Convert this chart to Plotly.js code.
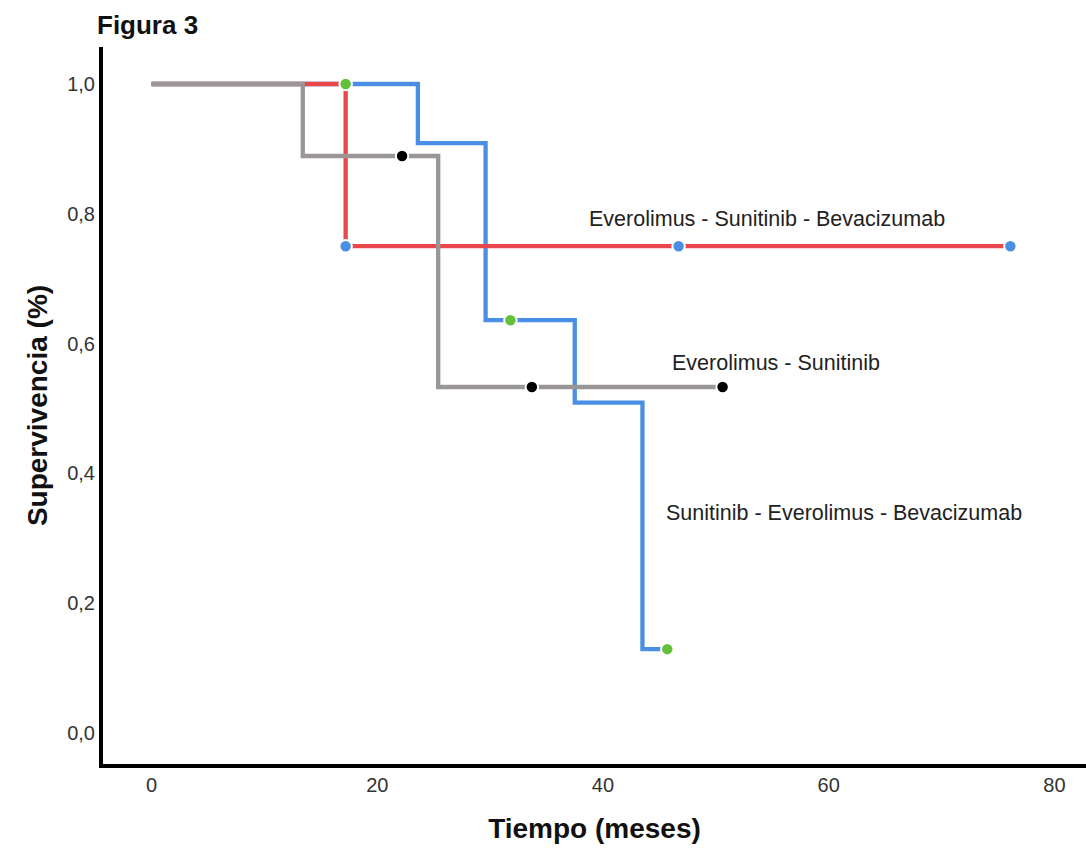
<!DOCTYPE html>
<html>
<head>
<meta charset="utf-8">
<script src="https://cdn.plot.ly/plotly-3.0.1.min.js"></script>
<style>html,body{margin:0;padding:0;background:#fff;}#chart{width:1086px;height:857px;}</style>
</head>
<body>
<div id="chart"></div>
<script>
// Kaplan-Meier step data (time in months, survival)
var grayName = "Everolimus - Sunitinib";
var grayTimes = [0, 13.4, 25.4, 50.6];
var graySurv = [1.0, 0.889, 0.533, 0.533];
var grayCensorT = [22.2, 33.7, 50.6];
var grayCensorS = [0.889, 0.533, 0.533];

var redName = "Everolimus - Sunitinib - Bevacizumab";
var redTimes = [0, 17.2, 76.1];
var redSurv = [1.0, 0.75, 0.75];
var redCensorT = [17.2, 46.7, 76.1];
var redCensorS = [0.75, 0.75, 0.75];

var blueName = "Sunitinib - Everolimus - Bevacizumab";
var blueTimes = [0, 23.6, 29.6, 37.5, 43.5, 45.7];
var blueSurv = [1.0, 0.909, 0.636, 0.509, 0.129, 0.129];
var blueCensorT = [17.2, 31.8, 45.7];
var blueCensorS = [1.0, 0.636, 0.129];

var xTickVals = [0, 20, 40, 60, 80];
var xTickText = ["0", "20", "40", "60", "80"];
var yTickVals = [0, 0.2, 0.4, 0.6, 0.8, 1.0];
var yTickText = ["0,0", "0,2", "0,4", "0,6", "0,8", "1,0"];

var cRed = "#E8474B", cBlue = "#4A8FE3", cGray = "#9A9696";

function stepTrace(x, y, color, name) {
  return {x: x, y: y, mode: "lines", line: {shape: "hv", color: color, width: 4.3}, name: name, hoverinfo: "skip"};
}
function censorTrace(x, y, color) {
  return {x: x, y: y, mode: "markers", marker: {color: color, size: 12.5, line: {color: "#ffffff", width: 2}}, hoverinfo: "skip"};
}

var data = [
  stepTrace(blueTimes, blueSurv, cBlue, blueName),
  stepTrace(redTimes, redSurv, cRed, redName),
  stepTrace(grayTimes, graySurv, cGray, grayName),
  censorTrace(grayCensorT, grayCensorS, "#000000"),
  censorTrace(redCensorT, redCensorS, "#4A8FE3"),
  censorTrace(blueCensorT, blueCensorS, "#62C03A")
];

var font = "Liberation Sans, Arial, sans-serif";
var layout = {
  width: 1086, height: 857,
  showlegend: false,
  paper_bgcolor: "#fff", plot_bgcolor: "#fff",
  margin: {l: 103, r: 0, t: 47, b: 93},
  title: {text: "<b>Figura 3</b>", font: {family: font, size: 26, color: "#111"}, xref: "container", yref: "container", x: 97/1086, xanchor: "left", y: 1 - 25/857, yanchor: "middle"},
  xaxis: {
    range: [-4.3, 82.8], tickvals: xTickVals, ticktext: xTickText,
    showgrid: false, zeroline: false, showline: true, linecolor: "#000", linewidth: 4,
    ticks: "", tickfont: {family: font, size: 20, color: "#333"},
    title: {text: "<b>Tiempo (meses)</b>", font: {family: font, size: 28, color: "#111"}, standoff: 24}
  },
  yaxis: {
    range: [-0.048, 1.057], tickvals: yTickVals, ticktext: yTickText,
    showgrid: false, zeroline: false, showline: true, linecolor: "#000", linewidth: 4,
    ticks: "", tickfont: {family: font, size: 20, color: "#333"},
    title: {text: "<b>Supervivencia (%)</b>", font: {family: font, size: 28, color: "#111"}, standoff: 12}
  },
  annotations: [
    {x: 38.6, y: 0.792, xref: "x", yref: "y", text: redName, showarrow: false, xanchor: "left", yanchor: "middle", font: {family: font, size: 21.5, color: "#222"}},
    {x: 45.9, y: 0.570, xref: "x", yref: "y", text: grayName, showarrow: false, xanchor: "left", yanchor: "middle", font: {family: font, size: 21.5, color: "#222"}},
    {x: 45.4, y: 0.339, xref: "x", yref: "y", text: blueName, showarrow: false, xanchor: "left", yanchor: "middle", font: {family: font, size: 21.5, color: "#222"}}
  ]
};

Plotly.newPlot("chart", data, layout, {displayModeBar: false, staticPlot: true});
</script>
</body>
</html>
